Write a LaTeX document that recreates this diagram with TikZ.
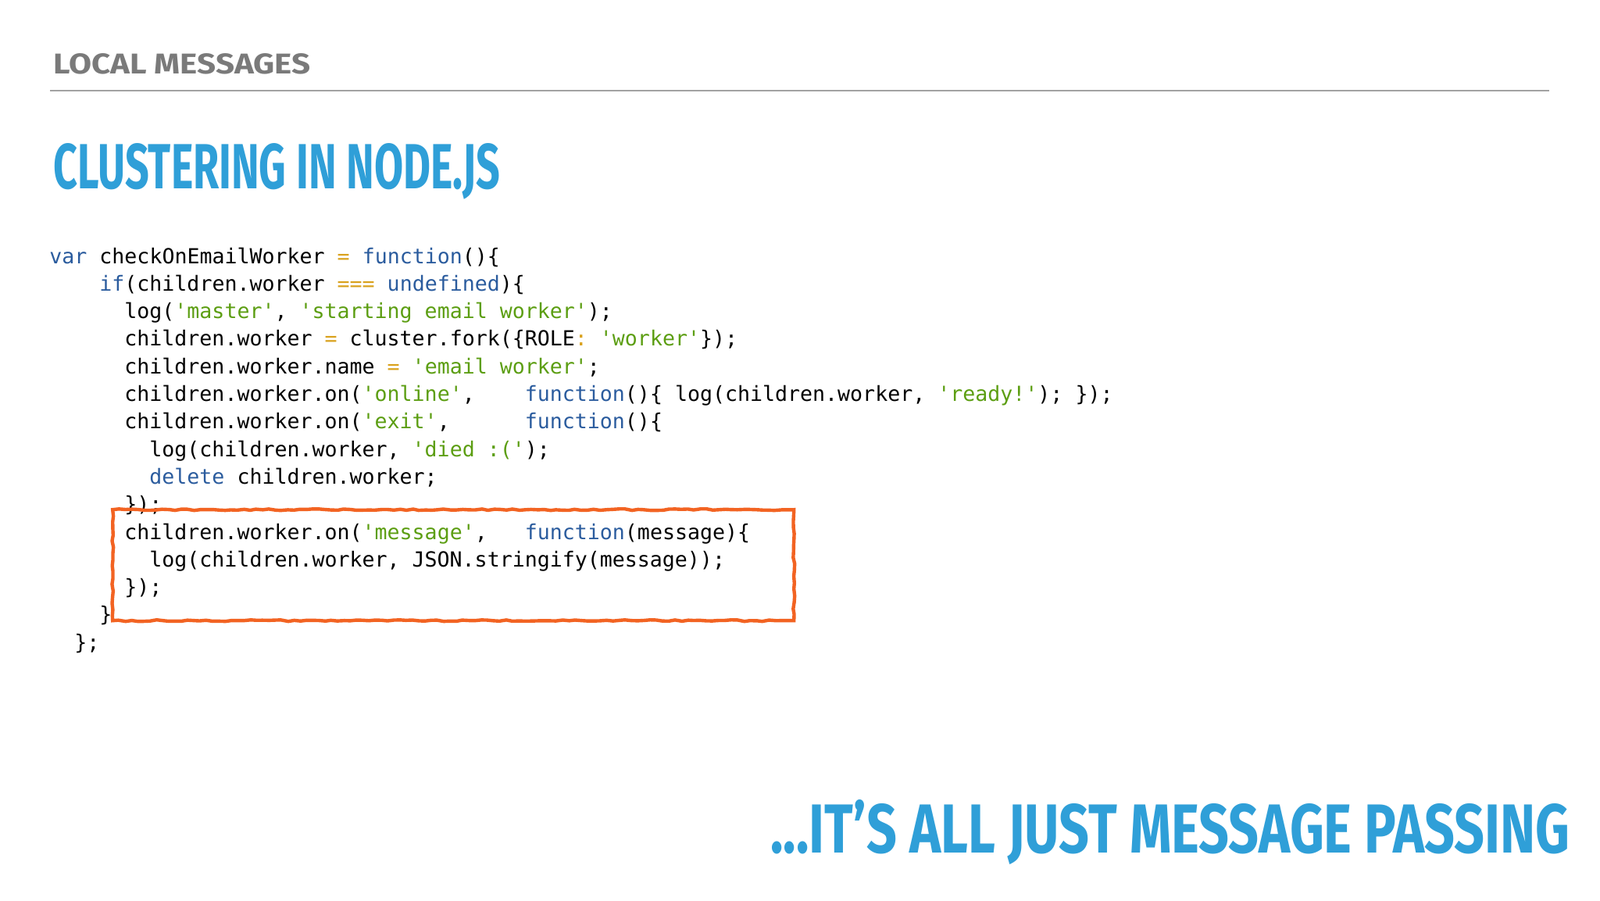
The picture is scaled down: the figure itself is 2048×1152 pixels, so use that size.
\documentclass[tikz,border=0pt]{standalone}
\usepackage{fontspec}
\setmonofont{DejaVu Sans Mono}
\newfontfamily\headf{Fira Sans}
\newfontfamily\titlef{Fira Sans}[FakeBold=0]
\usetikzlibrary{decorations.pathmorphing}
\definecolor{kwc}{HTML}{2B5C9E}
\definecolor{stc}{HTML}{5C9E12}
\definecolor{opc}{HTML}{D9A11C}
\definecolor{titc}{HTML}{2F9FD8}
\definecolor{graytxt}{HTML}{7A7A7A}
\definecolor{boxc}{HTML}{F26322}
\newcommand\kw[1]{\textcolor{kwc}{#1}}
\newcommand\st[1]{\textcolor{stc}{#1}}
\newcommand\op[1]{\textcolor{opc}{#1}}
\tikzset{
 codeline/.style={anchor=base west,inner sep=0pt,font=\ttfamily\fontsize{13.3pt}{16pt}\selectfont},
 roughbox/.style={draw=boxc,line width=2.2pt,decorate,decoration={random steps,segment length=4pt,amplitude=0.5pt},minimum width=436pt,minimum height=71pt,inner sep=0pt,anchor=north west}
}
\begin{document}
\begin{tikzpicture}[x=0.5pt,y=-0.5pt]
\useasboundingbox[fill=white] (0,0) rectangle (2048,1152);
\node[anchor=base west,inner sep=0pt,text=graytxt] (head) at (68,94) {\resizebox{164.5pt}{13pt}{\headf\bfseries LOCAL MESSAGES}};
\draw[graytxt!70,line width=1pt] (64,116) coordinate (l1) -- (1983,116) coordinate (l2);
\node[anchor=base west,inner sep=0pt,text=titc] (title) at (68,241) {\resizebox{286pt}{29pt}{\titlef\bfseries CLUSTERING IN NODE.JS}};
\node[codeline] (c0) at (63,337) {\kw{var} checkOnEmailWorker \op{=} \kw{function}()\{};
\node[codeline] (c1) at (127,372.3) {\kw{if}(children.worker \op{===} \kw{undefined})\{};
\node[codeline] (c2) at (159,407.6) {log(\st{'master'}, \st{'starting email worker'});};
\node[codeline] (c3) at (159,442.9) {children.worker \op{=} cluster.fork(\{ROLE\op{:} \st{'worker'}\});};
\node[codeline] (c4) at (159,478.2) {children.worker.name \op{=} \st{'email worker'};};
\node[codeline] (c5) at (159,513.5) {children.worker.on(\st{'online'},~~~~\kw{function}()\{ log(children.worker, \st{'ready!'}); \});};
\node[codeline] (c6) at (159,548.8) {children.worker.on(\st{'exit'},~~~~~~\kw{function}()\{};
\node[codeline] (c7) at (191,584.1) {log(children.worker, \st{'died :('});};
\node[codeline] (c8) at (191,619.4) {\kw{delete} children.worker;};
\node[codeline] (c9) at (159,654.7) {\});};
\node[codeline] (c10) at (159,690) {children.worker.on(\st{'message'},~~~\kw{function}(message)\{};
\node[codeline] (c11) at (191,725.3) {log(children.worker, JSON.stringify(message));};
\node[codeline] (c12) at (159,760.6) {\});};
\node[codeline] (c13) at (127,795.9) {\}};
\node[codeline] (c14) at (95,831.2) {\};};
\node[roughbox] (hl) at (142,650) {};
\node[anchor=base west,inner sep=0pt,text=titc] (foot) at (986,1091) {\resizebox{511.5pt}{34pt}{\titlef\bfseries ...IT’S ALL JUST MESSAGE PASSING}};
\end{tikzpicture}
\end{document}
